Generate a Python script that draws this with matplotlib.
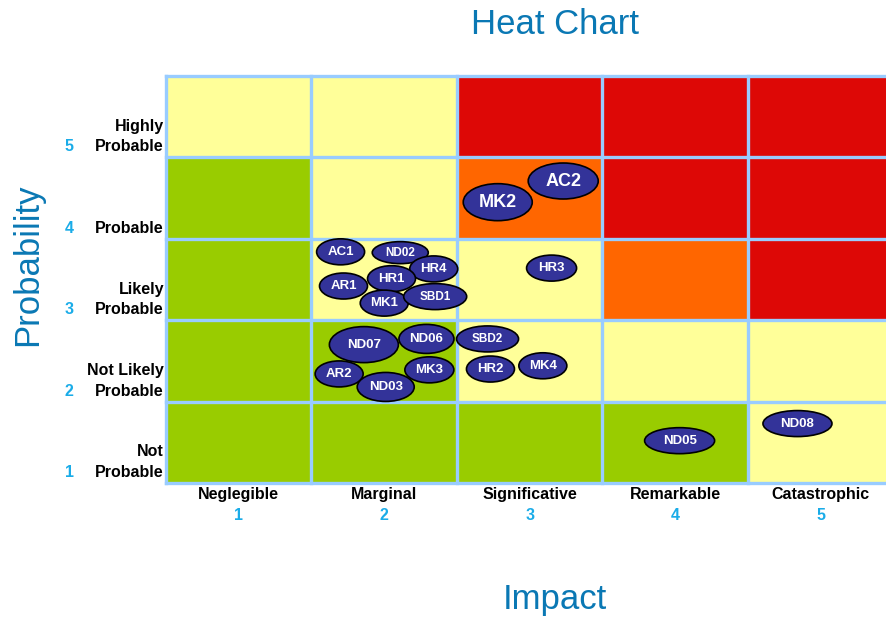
import numpy as np
import matplotlib.pyplot as plt
from matplotlib.colors import ListedColormap
from matplotlib.patches import Ellipse

plt.rcParams['font.family'] = ['Liberation Sans', 'DejaVu Sans']

# risk level of every cell, rows = probability 1..5, cols = impact 1..5
# 0 = low (green), 1 = medium (yellow), 2 = high (orange), 3 = extreme (red)
levels = [
    [0, 0, 0, 0, 1],
    [0, 0, 1, 1, 1],
    [0, 1, 1, 2, 3],
    [0, 1, 2, 3, 3],
    [1, 1, 3, 3, 3],
]
impact_names = ['Neglegible', 'Marginal', 'Significative', 'Remarkable', 'Catastrophic']
prob_names = [['Not', 'Probable'], ['Not Likely', 'Probable'], ['Likely', 'Probable'],
              ['Probable'], ['Highly', 'Probable']]

# risks: label, impact, probability
risk_ids = ['AC2', 'MK2', 'HR3', 'SBD2', 'HR2', 'MK4', 'ND05', 'ND08',
            'AC1', 'ND02', 'HR4', 'HR1', 'AR1', 'MK1', 'SBD1',
            'ND07', 'ND06', 'AR2', 'ND03', 'MK3']
risk_impact = [3.23, 2.78, 3.15, 2.71, 2.73, 3.09, 4.03, 4.84,
               1.70, 2.11, 2.34, 2.05, 1.72, 2.00, 2.35,
               1.86, 2.29, 1.69, 2.01, 2.31]
risk_prob = [4.21, 3.95, 3.14, 2.27, 1.90, 1.94, 1.02, 1.23,
             3.34, 3.33, 3.13, 3.01, 2.92, 2.71, 2.79,
             2.20, 2.27, 1.84, 1.68, 1.89]

# bubble sizes (pixels) and font sizes
bub_w = [70, 69, 50, 62, 48, 48, 70, 69, 48, 56, 48, 48, 48, 48, 63, 69, 55, 48, 57, 49]
bub_h = [36, 37, 26, 26, 26, 26, 26, 26, 26, 22, 26, 26, 26, 26, 26, 36, 29, 26, 29, 26]
bub_fs = [13, 13, 9.5, 8.5, 9.5, 9.5, 9.5, 9.5, 9.5, 8.5, 9.5, 9.5, 9.5, 9.5, 8.5, 9.5, 9.5, 9.5, 9.5, 9.5]

fig = plt.figure(figsize=(8.87, 6.17), dpi=100)
ax = fig.add_axes([166/887, 1-483/617, 727.5/887, 407/617])

cmap = ListedColormap(['#99CC00', '#FFFF99', '#FF6600', '#DD0806'])
ax.pcolormesh(np.arange(0.5, 6), np.arange(0.5, 6), np.array(levels),
              cmap=cmap, vmin=-0.5, vmax=3.5)
ax.set_xlim(0.5, 5.5)
ax.set_ylim(0.5, 5.5)

grid_c = '#99CCFF'
for v in np.arange(0.5, 6):
    ax.axvline(v, color=grid_c, lw=2.4, clip_on=False)
    ax.axhline(v, color=grid_c, lw=2.4, clip_on=False)
for s in ax.spines.values():
    s.set_visible(False)
ax.set_xticks([])
ax.set_yticks([])

px_x = 145.5  # pixels per impact unit
px_y = 81.4   # pixels per probability unit
for lab, x, y, w, h, fs in zip(risk_ids, risk_impact, risk_prob, bub_w, bub_h, bub_fs):
    ax.add_patch(Ellipse((x, y), w/px_x, h/px_y, facecolor='#333399',
                         edgecolor='black', lw=1.2, zorder=3))
    ax.text(x, y, lab, color='white', fontsize=fs, fontweight='bold',
            ha='center', va='center', zorder=4)

num_c = '#1AACE8'
lab_fs = 11.5
for i, name in enumerate(impact_names):
    ax.text(i+1, 0.5-4/px_y, name, ha='center', va='top', fontsize=lab_fs,
            fontweight='bold', clip_on=False)
    ax.text(i+1, 0.5-25/px_y, str(i+1), ha='center', va='top', fontsize=lab_fs,
            fontweight='bold', color=num_c, clip_on=False)

for i, lines in enumerate(prob_names):
    base = i + 0.5 + 6/px_y
    for k, t in enumerate(reversed(lines)):
        ax.text(0.5-2/px_x, base + k*20.5/px_y, t, ha='right', va='baseline',
                fontsize=lab_fs, fontweight='bold', clip_on=False)
    ax.text(0.5-97/px_x, base, str(i+1), ha='center', va='baseline', fontsize=lab_fs,
            fontweight='bold', color=num_c, clip_on=False)

title_c = '#0A78B4'
fig.text(555/887, 1-25/617, 'Heat Chart', ha='center', va='center', fontsize=25, color=title_c)
fig.text(555/887, 1-600/617, 'Impact', ha='center', va='center', fontsize=25, color=title_c)
fig.text(28/887, 1-265/617, 'Probability', ha='center', va='center', fontsize=25,
         color=title_c, rotation=90)

fig.savefig('out.png', dpi=100)
